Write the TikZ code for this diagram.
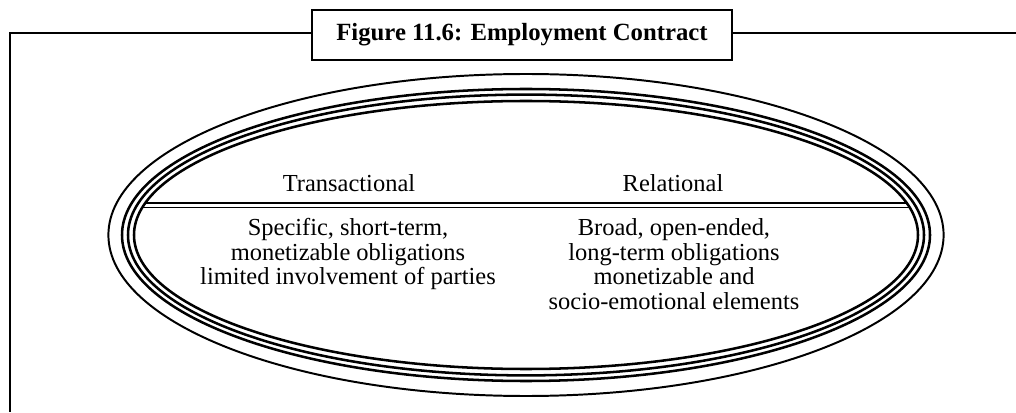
\documentclass[tikz,border=0pt]{standalone}
\usepackage{fontspec}
\setmainfont{Liberation Serif}
\usetikzlibrary{shapes.geometric}
\tikzset{
  ring/.style={ellipse,draw,inner sep=0pt,outer sep=0pt,line width=1.8pt},
  head/.style={font=\fontsize{17.4}{17.5}\selectfont},
  body/.style={font=\fontsize{17.4}{17.5}\selectfont,align=center,anchor=north,inner sep=0pt},
}
\begin{document}
\begin{tikzpicture}
  \useasboundingbox (0,0) rectangle (25.4,10.3);
  % title box and frame
  \node[draw,line width=1.4pt,minimum width=10.5cm,minimum height=1.25cm,inner sep=0pt,
        font=\bfseries\fontsize{17.6}{18}\selectfont] (title) at (13.05,9.425) {Figure 11.6: Employment Contract};
  \coordinate (fl) at (0.25,0);
  \coordinate (fr) at (25.4,9.475);
  \draw[line width=1.3pt] (title.west |- fr) -- (fl |- fr) -- (fl);
  \draw[line width=1.3pt] (title.east |- fr) -- (fr);
  % rings
  \node[ring,line width=1.4pt,minimum width=20.88cm,minimum height=8.05cm] (outer) at (13.15,4.425) {};
  \node[ring,minimum width=20.2cm,minimum height=7.3cm] (ringa) at (outer.center) {};
  \node[ring,minimum width=19.9cm,minimum height=7.02cm] (ringb) at (outer.center) {};
  \node[ring,minimum width=19.6cm,minimum height=6.7cm] (ringc) at (outer.center) {};
  % divider, ends on the inner ring
  \coordinate (dl) at (3.633,5.225);
  \coordinate (dr) at (22.667,5.225);
  \coordinate (el) at (3.566,5.115);
  \coordinate (er) at (22.734,5.115);
  \draw[line width=1.8pt] (dl) -- (dr);
  \draw[line width=1.2pt] (el) -- (er);
  \node[head] (trans) at (8.725,5.725) {Transactional};
  \node[head] (rel) at (16.825,5.725) {Relational};
  \node[body] (transtxt) at (8.7,4.85) {Specific, short-term,\\monetizable obligations\\limited involvement of parties};
  \node[body] (reltxt) at (16.85,4.84) {Broad, open-ended,\\long-term obligations\\monetizable and\\socio-emotional elements};
\end{tikzpicture}
\end{document}
